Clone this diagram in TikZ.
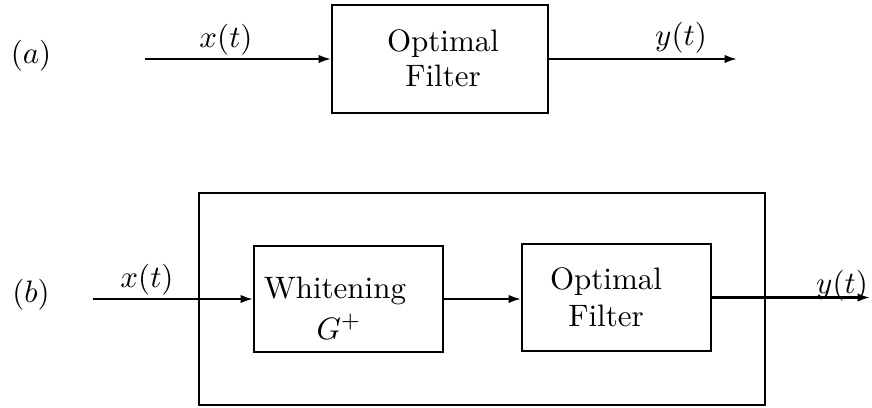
\documentclass[tikz,border=0pt]{standalone}
\usepackage{fontspec}
\usetikzlibrary{arrows.meta}
% one drawing unit
\newcommand\pxu{0.3226pt}
\begin{document}
\begin{tikzpicture}[x=\pxu, y=-\pxu,
  blk/.style={draw, line width=0.65pt, inner sep=0pt},
  txt/.style={inner sep=0pt, anchor=base},
  sig/.style={line width=0.65pt, -{Latex[length=4pt, width=2.7pt]}}]
\useasboundingbox (0,0) rectangle (872,407);

% ---------- (a) single optimal filter ----------
\node[txt] (lbla) at (31,63) {$(a)$};
\node[blk, minimum width={216*\pxu}, minimum height={108*\pxu}] (fa) at (440,59) {};
\node[txt] (fa1) at (443,51) {Optimal};
\node[txt] (fa2) at (443,86) {Filter};
\coordinate (ina) at (145,59);
\coordinate (outa) at (737,59);
\draw[sig] (ina) -- (fa.west);
\draw[sig] (fa.east) -- (outa);
\node[txt] (xa) at (226,47) {$x(t)$};
\node[txt] (ya) at (681,45) {$y(t)$};

% ---------- (b) whitening followed by optimal filter ----------
\node[txt] (lblb) at (31,302) {$(b)$};
\node[blk, minimum width={566*\pxu}, minimum height={212*\pxu}] (outer) at (482,299) {};
\node[blk, minimum width={189*\pxu}, minimum height={106*\pxu}] (wh) at (348.5,299) {};
\node[txt] (wh1) at (335,298) {Whitening};
\node[txt] (wh2) at (339,339) {$G^{+}$};
\node[blk, minimum width={189*\pxu}, minimum height={107*\pxu}] (fb) at (616.5,297.5) {};
\node[txt] (fb1) at (606,289) {Optimal};
\node[txt] (fb2) at (606,326) {Filter};
\coordinate (inb) at (93,299);
\coordinate (outb) at (870,297.5);
\draw[sig] (inb) -- (wh.west);
\draw[sig] (wh.east) -- (wh.east -| fb.west);
\draw[sig] (fb.east) -- (outb);
\node[txt] (xb) at (147,287) {$x(t)$};
\node[txt] (yb) at (842,293) {$y(t)$};
\end{tikzpicture}
\end{document}
